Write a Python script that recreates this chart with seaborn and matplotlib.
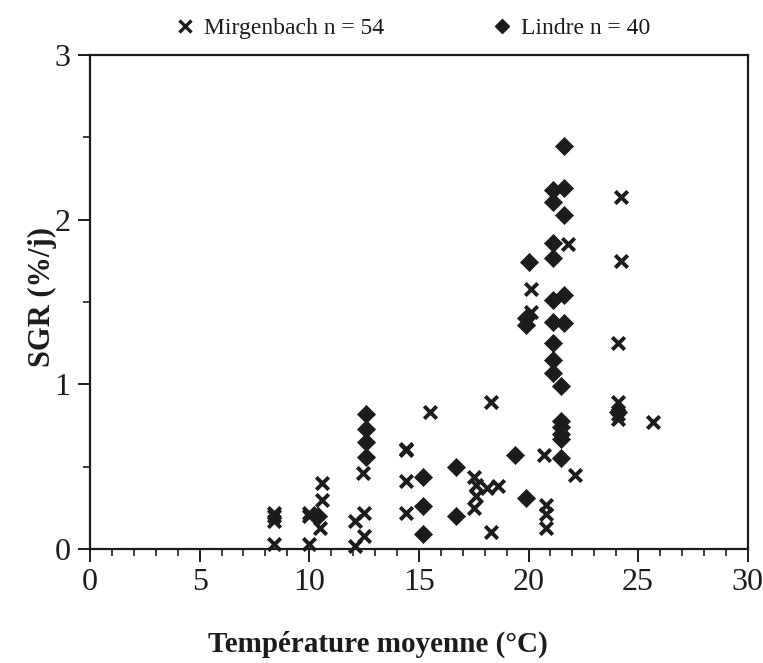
import numpy as np
import pandas as pd
import seaborn as sns
import matplotlib.pyplot as plt
from matplotlib.lines import Line2D
from matplotlib.ticker import MultipleLocator

# Mirgenbach (croix)
mirg_temp = [8.4, 8.4, 8.4, 8.4, 10.0, 10.0, 10.0, 10.6, 10.6, 10.5,
             12.1, 12.5, 12.5, 12.1, 12.45, 14.4, 14.4, 14.4, 14.4, 15.5,
             17.5, 17.6, 17.6, 17.5, 18.1, 18.6, 18.3, 18.3,
             20.1, 20.1, 20.7, 20.8, 20.8, 20.8, 21.8, 22.1,
             24.2, 24.2, 24.1, 24.1, 24.1, 24.1, 25.7]
mirg_sgr = [0.22, 0.20, 0.17, 0.03, 0.22, 0.20, 0.03, 0.40, 0.30, 0.13,
            0.17, 0.22, 0.08, 0.02, 0.46, 0.61, 0.60, 0.41, 0.22, 0.83,
            0.44, 0.39, 0.32, 0.25, 0.37, 0.38, 0.89, 0.10,
            1.58, 1.44, 0.57, 0.27, 0.21, 0.13, 1.85, 0.45,
            2.14, 1.75, 1.25, 0.89, 0.82, 0.79, 0.77]

# Lindre (losanges)
lin_temp = [10.4, 12.6, 12.6, 12.6, 12.6, 15.2, 15.2, 15.2, 16.7, 16.7,
            19.4, 19.9, 20.0, 19.9, 19.9,
            21.1, 21.1, 21.1, 21.1, 21.1, 21.1, 21.1, 21.1, 21.1,
            21.6, 21.6, 21.6, 21.6, 21.6,
            21.5, 21.5, 21.5, 21.5, 21.5, 21.5, 24.1]
lin_sgr = [0.20, 0.82, 0.73, 0.65, 0.56, 0.44, 0.26, 0.09, 0.50, 0.20,
           0.57, 0.31, 1.74, 1.40, 1.36,
           2.18, 2.11, 1.86, 1.77, 1.51, 1.38, 1.25, 1.15, 1.07,
           2.45, 2.19, 2.03, 1.54, 1.37,
           0.99, 0.78, 0.74, 0.70, 0.67, 0.55, 0.83]

mirg = pd.DataFrame({"temp": mirg_temp, "sgr": mirg_sgr})
lin = pd.DataFrame({"temp": lin_temp, "sgr": lin_sgr})

sns.set_style("ticks")
plt.rcParams["font.family"] = ["Liberation Serif", "DejaVu Serif"]
ink = "#1c1c1c"

fig = plt.figure(figsize=(7.63, 6.63), dpi=100)
ax = fig.add_axes([0.118, 0.172, 0.862, 0.745])

sns.scatterplot(data=lin, x="temp", y="sgr", marker="D", s=85, color=ink,
                edgecolor=ink, linewidth=0.5, ax=ax, clip_on=False, zorder=3)
sns.scatterplot(data=mirg, x="temp", y="sgr", marker="x", s=80, color=ink,
                linewidth=2.8, ax=ax, clip_on=False, zorder=4)

ax.set_xlim(0, 30)
ax.set_ylim(0, 3)
ax.xaxis.set_major_locator(MultipleLocator(5))
ax.xaxis.set_minor_locator(MultipleLocator(1))
ax.yaxis.set_major_locator(MultipleLocator(1))
ax.yaxis.set_minor_locator(MultipleLocator(0.5))
ax.tick_params(which="major", direction="out", length=9, width=1.4,
               color=ink, labelsize=23, labelcolor=ink, pad=5)
ax.tick_params(which="minor", direction="out", length=5, width=1.2, color=ink)
for sp in ax.spines.values():
    sp.set_linewidth(1.6)
    sp.set_color(ink)

ax.set_xlabel("Température moyenne (°C)", fontsize=21, fontweight="bold",
              color=ink)
ax.xaxis.set_label_coords(0.437, -0.165)
ax.set_ylabel("SGR (%/j)", fontsize=22, fontweight="bold", color=ink)
ax.yaxis.set_label_coords(-0.05, 0.51)

handles = [Line2D([], [], marker="x", ls="none", color=ink, markersize=8,
                  markeredgewidth=2.4),
           Line2D([], [], marker="D", ls="none", color=ink, markersize=7)]
fig.legend(handles, ["Mirgenbach n = 54", "Lindre n = 40"],
           loc="upper center", bbox_to_anchor=(0.54, 1.005), ncol=2,
           frameon=False, fontsize=17, columnspacing=4.5, handlelength=1.0,
           handletextpad=0.3, labelcolor=ink)

fig.savefig("out.png", dpi=100)
